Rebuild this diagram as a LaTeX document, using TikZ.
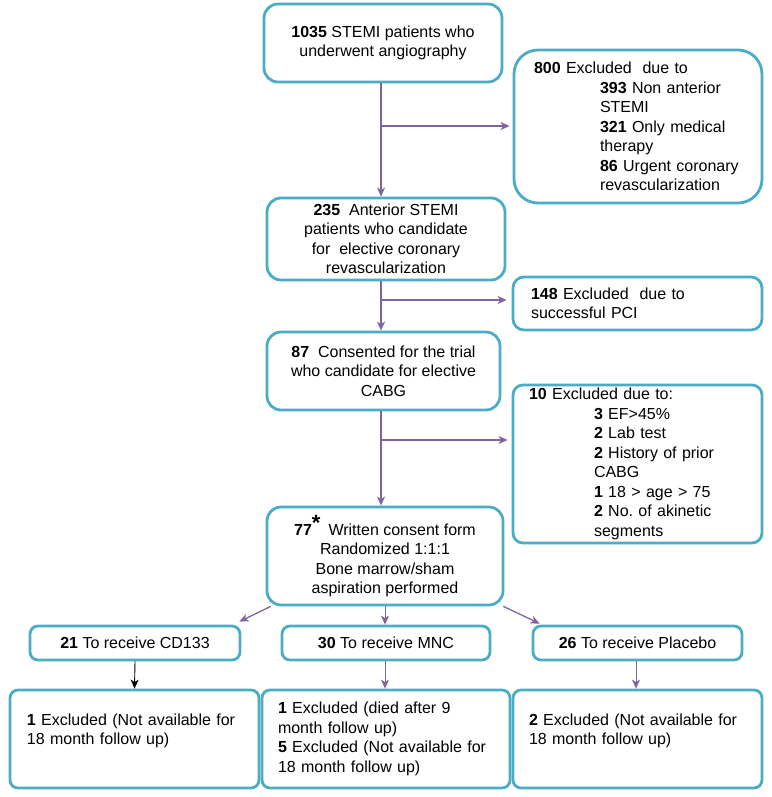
\documentclass[tikz,border=0pt]{standalone}
\usepackage{fontspec}
\setmainfont{Liberation Sans}
\usetikzlibrary{arrows.meta}
\definecolor{boxc}{HTML}{4BACC6}
\definecolor{arrc}{HTML}{8064A2}
\newcommand{\ind}{\hspace*{66pt}}
\begin{document}
\begin{tikzpicture}[x=1pt,y=-1pt,
 box/.style={draw=boxc, line width=2.8pt, rounded corners=14pt, fill=white, inner sep=0pt,
   font=\fontsize{16}{19.5}\selectfont, align=center},
 sbox/.style={box, rounded corners=8pt},
 arr/.style={draw=arrc, line width=1.3pt, -{Stealth[length=9pt,width=8pt,inset=2.5pt]}},
 thinarr/.style={arr, line width=0.9pt},
 blkarr/.style={thinarr, draw=black},
 ]
\useasboundingbox (0,0) rectangle (771,797);

% main column
\node[box, minimum width=238pt, minimum height=78pt] (b1) at (383,43)
  {\textbf{1035} STEMI patients who\\underwent angiography};
\node[box, minimum width=238pt, minimum height=82pt] (b2) at (386,239)
  {\textbf{235}\ \ Anterior STEMI\\patients who candidate\\for\ \ elective coronary\\revascularization};
\node[box, minimum width=233pt, minimum height=78pt] (b3) at (383.5,371)
  {\textbf{87}\ \ Consented for the trial\\who candidate for elective\\CABG};
\node[box, minimum width=236pt, minimum height=98pt] (b4) at (385,556)
  {\textbf{77}\raisebox{5pt}{\fontsize{22}{22}\selectfont\textbf{*}}\hspace{8pt}Written consent form\\Randomized 1:1:1\\Bone marrow/sham\\aspiration performed};

% exclusion boxes
\node[box, rounded corners=24pt, minimum width=248pt, minimum height=153pt, inner xsep=20pt,
  text width=208pt, align=left] (e1) at (638,126.5)
  {\textbf{800} Excluded\ \ due to\\
   \ind\textbf{393} Non anterior\\
   \ind STEMI\\
   \ind\textbf{321} Only medical\\
   \ind therapy\\
   \ind\textbf{86} Urgent coronary\\
   \ind revascularization};
\node[box, rounded corners=11pt, minimum width=249pt, minimum height=53pt, inner xsep=18pt,
  text width=213pt, align=left] (e2) at (637.5,303.5)
  {\textbf{148} Excluded\ \ due to\\successful PCI};
\node[box, rounded corners=10pt, minimum width=249pt, minimum height=158pt, inner xsep=16pt,
  text width=217pt, align=left] (e3) at (637.5,464)
  {\textbf{10} Excluded due to:\\
   \hspace*{65pt}\textbf{3} EF>45\%\\
   \hspace*{65pt}\textbf{2} Lab test\\
   \hspace*{65pt}\textbf{2} History of prior\\
   \hspace*{65pt}CABG\\
   \hspace*{65pt}\textbf{1} 18 > age > 75\\
   \hspace*{65pt}\textbf{2} No.\ of akinetic\\
   \hspace*{65pt}segments};

% arms
\node[sbox, minimum width=210pt, minimum height=34pt] (r1) at (135,643) {\textbf{21} To receive CD133};
\node[sbox, minimum width=208pt, minimum height=34pt] (r2) at (386,643) {\textbf{30} To receive MNC};
\node[sbox, minimum width=209pt, minimum height=34pt] (r3) at (637.5,643) {\textbf{26} To receive Placebo};

% follow-up boxes
\node[sbox, minimum width=249pt, minimum height=98pt, inner xsep=17pt, text width=215pt, align=left] (f1) at (134.5,739)
  {\textbf{1} Excluded (Not available for\\18 month follow up)\\\mbox{}};
\node[sbox, minimum width=248pt, minimum height=98pt, inner xsep=16pt, text width=216pt, align=left] (f2) at (386,739)
  {\textbf{1} Excluded (died after 9\\month follow up)\\\textbf{5} Excluded (Not available for\\18 month follow up)};
\node[sbox, minimum width=249pt, minimum height=98pt, inner xsep=16pt, text width=217pt, align=left] (f3) at (637.5,739)
  {\textbf{2} Excluded (Not available for\\18 month follow up)\\\mbox{}};

% trunk coordinates
\coordinate (t1) at (381,126);
\coordinate (t2) at (381,300);
\coordinate (t3) at (381,440);

\draw[arr] (b1.south -| t1) -- (b2.north -| t1);
\draw[arr, shorten >=3pt] (t1) -- (e1.west |- t1);
\draw[arr] (b2.south -| t2) -- (b3.north -| t2);
\draw[arr, shorten >=5pt] (t2) -- (e2.west |- t2);
\draw[arr] (b3.south -| t3) -- (b4.north -| t3);
\draw[arr, shorten >=4pt] (t3) -- (e3.west |- t3);

\draw[arr] ([xshift=5pt]b4.south west) -- ([xshift=-2pt,yshift=3pt]r1.north east);
\draw[thinarr] (b4.south) -- (b4.south |- r2.north);
\draw[arr] ([xshift=-1pt]b4.south east) -- ([xshift=8pt,yshift=1pt]r3.north west);

\draw[blkarr] (r1.south) -- (f1.north);
\draw[thinarr] ([xshift=-1pt]r2.south) -- ([xshift=-1pt]r2.south |- f2.north);
\draw[thinarr] ([xshift=-1.5pt]r3.south) -- ([xshift=-1.5pt]r3.south |- f3.north);
\end{tikzpicture}
\end{document}
